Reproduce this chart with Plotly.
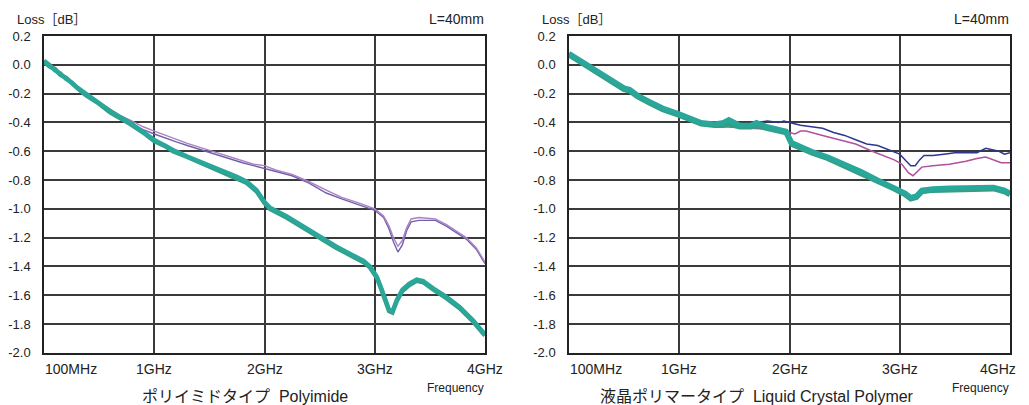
import plotly.graph_objects as go

# ---------------- data ----------------
y_tick_vals = [0.2, 0.0, -0.2, -0.4, -0.6, -0.8, -1.0, -1.2, -1.4, -1.6, -1.8, -2.0]
y_tick_text = ["0.2", "0.0", "-0.2", "-0.4", "-0.6", "-0.8", "-1.0", "-1.2", "-1.4", "-1.6", "-1.8", "-2.0"]
x_tick_pos = [0, 1, 2, 3, 4]
x_tick_text = ["100MHz", "1GHz", "2GHz", "3GHz", "4GHz"]

# Left panel: Polyimide
pi_teal_x = [0.0, 0.05, 0.1, 0.15, 0.2, 0.25, 0.3, 0.38, 0.44, 0.5, 0.6, 0.7, 0.78, 0.9, 1.0, 1.1, 1.17, 1.3,
             1.45, 1.6, 1.75, 1.84, 1.93, 2.0, 2.05, 2.2, 2.35, 2.5, 2.65, 2.8, 2.9, 2.96, 3.02, 3.06, 3.09,
             3.13, 3.16, 3.2, 3.25, 3.31, 3.38, 3.44, 3.53, 3.65, 3.77, 3.89, 4.0]
pi_teal_y = [0.03, 0.0, -0.04, -0.06, -0.10, -0.12, -0.155, -0.20, -0.235, -0.265, -0.32, -0.365, -0.40, -0.465,
             -0.52, -0.56, -0.59, -0.635, -0.68, -0.73, -0.775, -0.81, -0.87, -0.95, -0.99, -1.05, -1.12, -1.19,
             -1.26, -1.32, -1.36, -1.40, -1.47, -1.55, -1.62, -1.70, -1.71, -1.63, -1.56, -1.52, -1.49, -1.50,
             -1.55, -1.61, -1.68, -1.77, -1.87]
pi_green_x = pi_teal_x
pi_green_y = [0.02, -0.01, -0.03, -0.07, -0.09, -0.13, -0.16, -0.21, -0.24, -0.27, -0.33, -0.37, -0.41, -0.47,
              -0.53, -0.565, -0.60, -0.64, -0.69, -0.735, -0.785, -0.82, -0.88, -0.96, -1.0, -1.06, -1.13, -1.20,
              -1.27, -1.33, -1.37, -1.41, -1.48, -1.56, -1.63, -1.71, -1.72, -1.64, -1.57, -1.53, -1.50, -1.51,
              -1.56, -1.62, -1.69, -1.78, -1.88]
pi_violet_x = [0.0, 0.1, 0.2, 0.3, 0.4, 0.5, 0.6, 0.7, 0.8, 0.9, 1.0, 1.1, 1.2, 1.3, 1.4, 1.5, 1.6, 1.7, 1.8,
               1.9, 2.0, 2.1, 2.25, 2.4, 2.56, 2.7, 2.86, 3.0, 3.08, 3.13, 3.17, 3.21, 3.25, 3.29, 3.33, 3.4,
               3.55, 3.65, 3.75, 3.83, 3.92, 4.0]
pi_violet_y = [0.02, -0.04, -0.10, -0.155, -0.21, -0.26, -0.31, -0.355, -0.39, -0.43, -0.46, -0.49, -0.52, -0.545,
               -0.57, -0.595, -0.62, -0.645, -0.665, -0.69, -0.70, -0.73, -0.76, -0.81, -0.87, -0.92, -0.96, -1.0,
               -1.05, -1.12, -1.20, -1.26, -1.22, -1.13, -1.07, -1.06, -1.07, -1.11, -1.16, -1.20, -1.27, -1.37]
pi_blue_x = pi_violet_x
pi_blue_y = [0.02, -0.04, -0.10, -0.16, -0.215, -0.27, -0.32, -0.365, -0.41, -0.45, -0.48, -0.51, -0.535, -0.56,
             -0.585, -0.61, -0.63, -0.655, -0.68, -0.70, -0.72, -0.74, -0.77, -0.82, -0.89, -0.93, -0.97, -1.01,
             -1.06, -1.14, -1.23, -1.30, -1.25, -1.15, -1.09, -1.08, -1.08, -1.12, -1.17, -1.21, -1.28, -1.38]

# Right panel: Liquid Crystal Polymer
lcp_teal_x = [0.0, 0.1, 0.2, 0.3, 0.42, 0.5, 0.55, 0.62, 0.72, 0.85, 1.0, 1.1, 1.2, 1.32, 1.4, 1.45, 1.55,
              1.65, 1.7, 1.8, 1.9, 1.97, 2.02, 2.1, 2.2, 2.35, 2.5, 2.65, 2.8, 2.95, 3.05, 3.1, 3.15, 3.2, 3.3,
              3.45, 3.6, 3.75, 3.85, 3.95, 4.0]
lcp_teal_y = [0.08, 0.03, -0.02, -0.07, -0.13, -0.16, -0.17, -0.21, -0.25, -0.30, -0.34, -0.37, -0.40, -0.41,
              -0.40, -0.38, -0.42, -0.42, -0.40, -0.43, -0.445, -0.46, -0.54, -0.57, -0.60, -0.64, -0.69, -0.74,
              -0.80, -0.85, -0.89, -0.92, -0.91, -0.87, -0.86, -0.855, -0.85, -0.85, -0.85, -0.87, -0.89]
lcp_green_x = lcp_teal_x
lcp_green_y = [0.07, 0.02, -0.03, -0.08, -0.14, -0.17, -0.18, -0.22, -0.26, -0.31, -0.35, -0.38, -0.41, -0.42,
               -0.42, -0.41, -0.43, -0.43, -0.42, -0.44, -0.455, -0.47, -0.55, -0.58, -0.61, -0.65, -0.70, -0.75,
               -0.81, -0.86, -0.90, -0.93, -0.92, -0.88, -0.87, -0.865, -0.86, -0.86, -0.86, -0.88, -0.90]
lcp_blue_x = [0.0, 0.2, 0.42, 0.72, 1.0, 1.2, 1.4, 1.6, 1.7, 1.8, 1.9, 1.95, 2.0, 2.1, 2.2, 2.3, 2.4, 2.5, 2.6,
              2.7, 2.8, 2.9, 3.0, 3.06, 3.1, 3.14, 3.18, 3.22, 3.3, 3.4, 3.5, 3.6, 3.7, 3.78, 3.85, 3.9, 3.95, 4.0]
lcp_blue_y = [0.08, -0.02, -0.13, -0.25, -0.34, -0.40, -0.41, -0.42, -0.40, -0.39, -0.40, -0.39, -0.40, -0.42,
              -0.43, -0.44, -0.47, -0.49, -0.52, -0.55, -0.56, -0.59, -0.62, -0.67, -0.70, -0.70, -0.66, -0.63,
              -0.63, -0.62, -0.61, -0.61, -0.61, -0.58, -0.59, -0.60, -0.62, -0.61]
lcp_magenta_x = [0.0, 0.2, 0.42, 0.72, 1.0, 1.2, 1.4, 1.6, 1.8, 1.9, 2.0, 2.05, 2.1, 2.15, 2.3, 2.45, 2.6, 2.75,
                 2.85, 2.95, 3.02, 3.08, 3.12, 3.16, 3.2, 3.3, 3.45, 3.6, 3.7, 3.78, 3.85, 3.92, 4.0]
lcp_magenta_y = [0.07, -0.03, -0.14, -0.26, -0.35, -0.41, -0.43, -0.44, -0.45, -0.45, -0.47, -0.48, -0.46, -0.46,
                 -0.49, -0.52, -0.55, -0.60, -0.63, -0.66, -0.69, -0.75, -0.77, -0.74, -0.71, -0.70, -0.69, -0.67,
                 -0.65, -0.64, -0.66, -0.68, -0.68]

panel_titles = ["ポリイミドタイプ  Polyimide", "液晶ポリマータイプ  Liquid Crystal Polymer"]
y_label = "Loss［dB］"
length_label = "L=40mm"
freq_label = "Frequency"

# ---------------- figure ----------------
W, H = 1029, 405
BLUE = "#2d3790"
MAGENTA = "#b0509e"
VIOLET = "#6e62ad"
LAVENDER = "#ad80c2"
TEAL = "#2aa79b"
GREEN = "#33a085"

fig = go.Figure()

def add(x, y, color, width, xa, ya):
    fig.add_trace(go.Scatter(x=x, y=y, mode="lines", line=dict(color=color, width=width),
                             xaxis=xa, yaxis=ya, showlegend=False, hoverinfo="skip"))

add(pi_blue_x, pi_blue_y, VIOLET, 1.4, "x", "y")
add(pi_violet_x, pi_violet_y, LAVENDER, 1.4, "x", "y")
add(pi_green_x, pi_green_y, GREEN, 4.5, "x", "y")
add(pi_teal_x, pi_teal_y, TEAL, 4, "x", "y")

add(lcp_blue_x, lcp_blue_y, BLUE, 1.5, "x2", "y2")
add(lcp_magenta_x, lcp_magenta_y, MAGENTA, 1.5, "x2", "y2")
add(lcp_green_x, lcp_green_y, GREEN, 5.5, "x2", "y2")
add(lcp_teal_x, lcp_teal_y, TEAL, 5, "x2", "y2")

# map target-picture pixels to paper fractions (page renders figure offset in the window)
OX, OY, PH = 8, 16, 389
px = lambda X: (X - OX) / W
py = lambda Y: 1 - (Y - OY) / PH

doms = [(px(44), px(485)), (px(569), px(1010))]
ydom = (py(353), py(37))
font_lat = "Liberation Sans, Arial, Noto Sans CJK JP, sans-serif"

axis_common = dict(showgrid=True, gridcolor="#3a3a3a", gridwidth=1.5, zeroline=False,
                   showline=True, linecolor="#222", linewidth=1.5, mirror=True)

for i, (d, xa, ya) in enumerate(zip(doms, ["xaxis", "xaxis2"], ["yaxis", "yaxis2"])):
    anchor_y = "y" if i == 0 else "y2"
    anchor_x = "x" if i == 0 else "x2"
    fig.layout[xa] = dict(domain=d, anchor=anchor_y, range=[0, 4], tickvals=x_tick_pos,
                          showticklabels=False, ticks="", **axis_common)
    fig.layout[ya] = dict(domain=ydom, anchor=anchor_x, range=[-2.0, 0.2], tickvals=y_tick_vals,
                          ticktext=y_tick_text, ticks="", ticklabelstandoff=9,
                          tickfont=dict(family=font_lat, size=13, color="#222"), **axis_common)

ann = []
for i, (XL, XR) in enumerate([(44, 485), (569, 1010)]):
    xr = "x" if i == 0 else "x2"
    for j, (pos, txt) in enumerate(zip(x_tick_pos, x_tick_text)):
        if j == 0:
            xa_, xs = "left", -1
        elif j == 4 and i == 1:
            xa_, xs = "right", 8
        else:
            xa_, xs = "center", 0
        ann.append(dict(x=pos, y=py(369), xref=xr, yref="paper", text=txt, showarrow=False,
                        xanchor=xa_, yanchor="middle", xshift=xs,
                        font=dict(family=font_lat, size=14, color="#222")))
    ann.append(dict(x=px(XL - 29), y=py(20), xref="paper", yref="paper", text=y_label,
                    showarrow=False, xanchor="left", yanchor="middle",
                    font=dict(family=font_lat, size=13, color="#222")))
    ann.append(dict(x=px(XR + 1), y=py(20), xref="paper", yref="paper", text=length_label,
                    showarrow=False, xanchor="right", yanchor="middle",
                    font=dict(family=font_lat, size=14, color="#222")))
    ann.append(dict(x=px(XR - 30), y=py(388), xref="paper", yref="paper", text=freq_label,
                    showarrow=False, xanchor="center", yanchor="middle",
                    font=dict(family=font_lat, size=12, color="#222")))
    ann.append(dict(x=px([245, 757][i]), y=py(397), xref="paper", yref="paper", text=panel_titles[i],
                    showarrow=False, xanchor="center", yanchor="middle",
                    font=dict(family="Liberation Sans, Noto Sans CJK JP, sans-serif", size=16, color="#222")))

fig.update_layout(width=W, height=H, margin=dict(l=0, r=0, t=0, b=0),
                  paper_bgcolor="white", plot_bgcolor="white", annotations=ann, showlegend=False)

fig.write_html("out.html")
